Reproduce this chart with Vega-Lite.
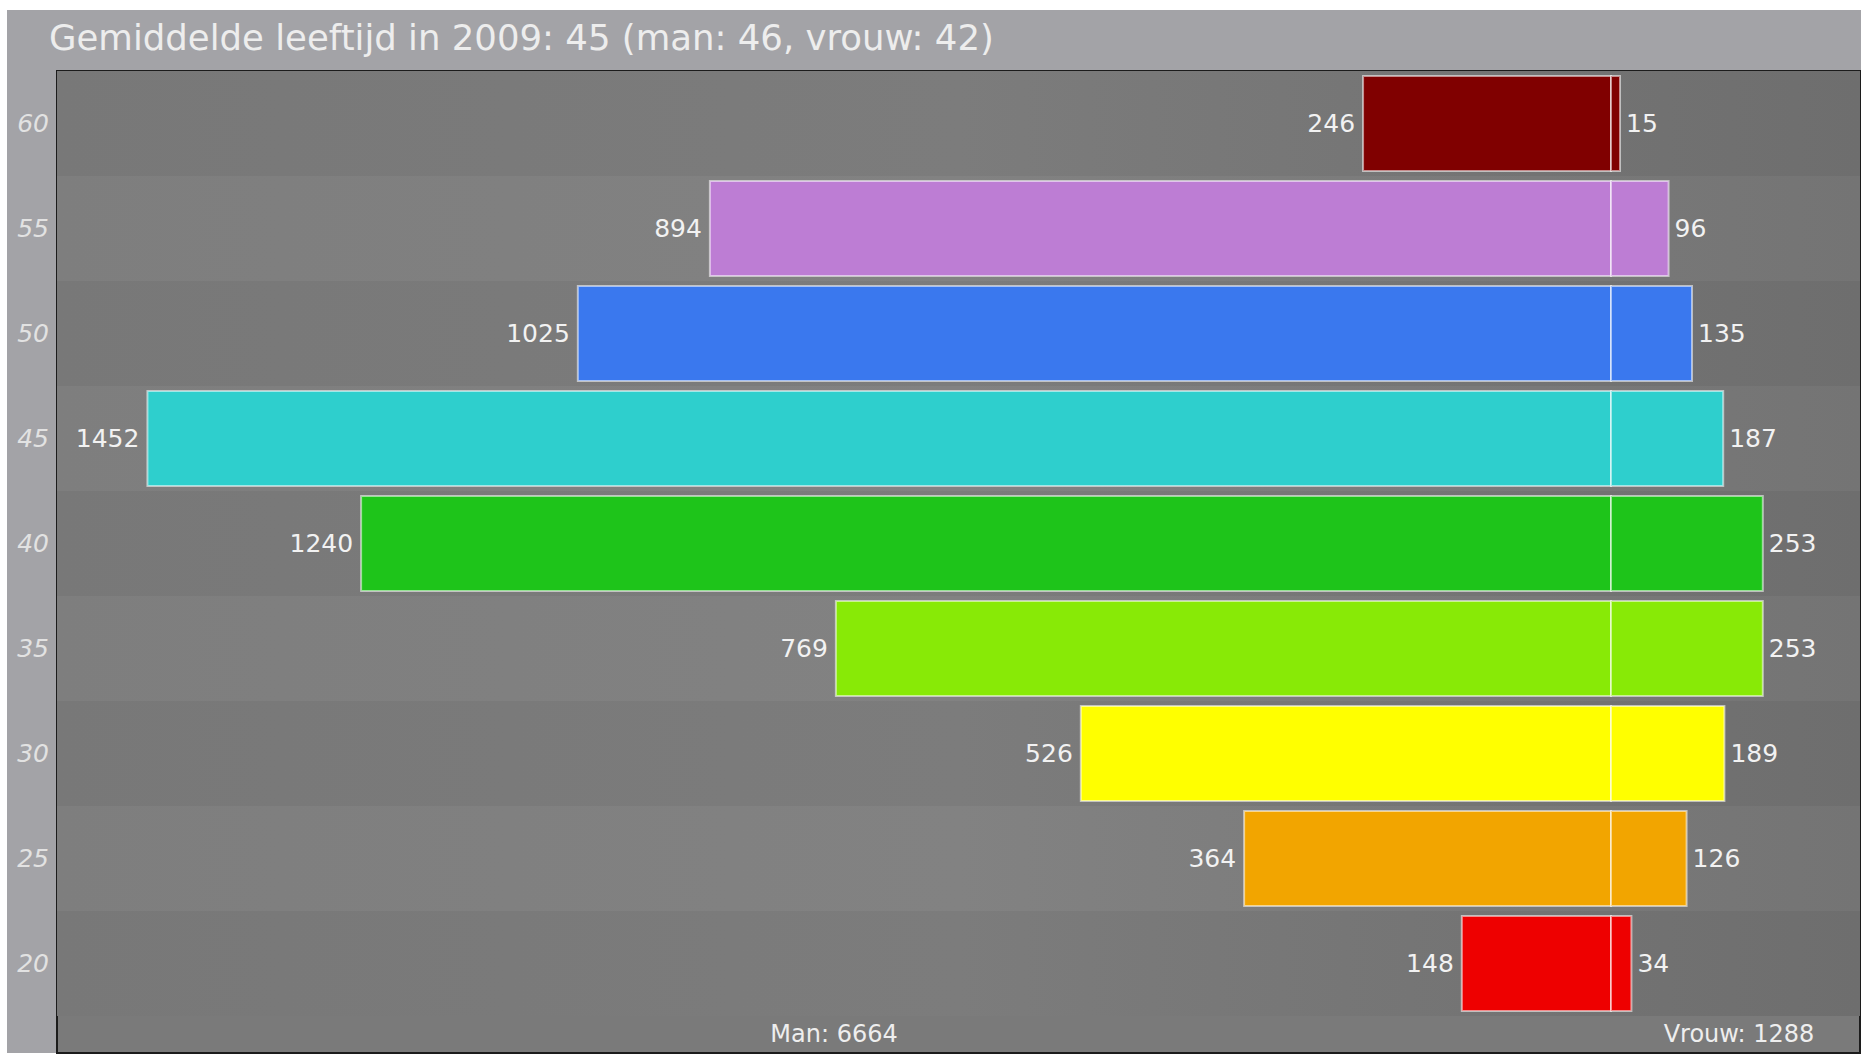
{
  "$schema": "https://vega.github.io/schema/vega-lite/v6.json",
  "background": "white",
  "padding": {"left": 7, "top": 10, "right": 0, "bottom": 0},
  "spacing": 0,
  "bounds": "flush",
  "config": {"font": "DejaVu Sans", "concat": {"spacing": 0}},
  "vconcat": [
    {
      "width": 1854,
      "height": 61,
      "view": {"fill": "#a3a3a7", "stroke": null},
      "data": {"values": [{"t": "Gemiddelde leeftijd in 2009: 45 (man: 46, vrouw: 42)"}]},
      "mark": {"type": "text", "align": "left", "baseline": "alphabetic", "dx": 42, "dy": -21, "fontSize": 35.5, "color": "#ededed"},
      "encoding": {
        "x": {"datum": 0, "type": "quantitative", "axis": null, "scale": {"domain": [0, 1], "nice": false}},
        "y": {"datum": 0, "type": "quantitative", "axis": null, "scale": {"domain": [0, 1], "nice": false}},
        "text": {"field": "t", "type": "nominal"}
      }
    },
    {
      "spacing": 0,
      "bounds": "flush",
      "hconcat": [
        {
          "width": 50,
          "height": 982,
          "view": {"fill": "#a3a3a7", "stroke": null},
          "data": {"values": [
            {"age": "60"}, {"age": "55"}, {"age": "50"}, {"age": "45"}, {"age": "40"},
            {"age": "35"}, {"age": "30"}, {"age": "25"}, {"age": "20"}
          ]},
          "mark": {"type": "text", "align": "right", "baseline": "middle", "dx": -8, "fontSize": 25, "fontStyle": "italic", "color": "#e2e2e2"},
          "encoding": {
            "y": {"field": "age", "type": "nominal", "axis": null, "sort": null,
              "scale": {"domain": ["60","55","50","45","40","35","30","25","20","tot"], "range": [0, 1050], "paddingInner": 0, "paddingOuter": 0}},
            "x": {"datum": 1, "type": "quantitative", "axis": null, "scale": {"domain": [0, 1], "nice": false}},
            "text": {"field": "age", "type": "nominal"}
          }
        },
        {
          "width": 1803,
          "height": 982,
          "view": {"fill": "#7a7a7a", "stroke": "#1c1c1c", "strokeWidth": 2},
          "data": {"values": [
            {"age": "60", "man": 246, "vrouw": 15},
            {"age": "55", "man": 894, "vrouw": 96},
            {"age": "50", "man": 1025, "vrouw": 135},
            {"age": "45", "man": 1452, "vrouw": 187},
            {"age": "40", "man": 1240, "vrouw": 253},
            {"age": "35", "man": 769, "vrouw": 253},
            {"age": "30", "man": 526, "vrouw": 189},
            {"age": "25", "man": 364, "vrouw": 126},
            {"age": "20", "man": 148, "vrouw": 34}
          ]},
          "encoding": {
            "y": {"field": "age", "type": "nominal", "axis": null, "sort": null,
              "scale": {"domain": ["60","55","50","45","40","35","30","25","20","tot"], "range": [0, 1050], "paddingInner": 0, "paddingOuter": 0}}
          },
          "layer": [
            {
              "mark": {"type": "rect", "fill": {"gradient": "linear", "x1": 0, "x2": 1, "y1": 0, "y2": 0,
                "stops": [{"offset": 0, "color": "#7b7b7b"}, {"offset": 0.5, "color": "#7f7f7f"}, {"offset": 1, "color": "#717171"}]}}
            },
            {
              "mark": {"type": "rect", "fillOpacity": 0.022},
              "encoding": {
                "fill": {"field": "age", "type": "nominal", "legend": null,
                  "scale": {"domain": ["60","55","50","45","40","35","30","25","20"],
                    "range": ["#000000","#ffffff","#000000","#ffffff","#000000","#ffffff","#000000","#ffffff","#000000"]}}
              }
            },
            {
              "mark": {"type": "rule", "color": "#111111", "strokeWidth": 2},
              "encoding": {
                "x": {"datum": 0, "type": "quantitative", "axis": null,
                  "scale": {"domain": [-247, 1541.7], "reverse": true, "nice": false}}
              }
            },
            {
              "encoding": {
                "x": {"field": "man", "type": "quantitative", "axis": null,
                  "scale": {"domain": [-247, 1541.7], "reverse": true, "nice": false}}
              },
              "layer": [
                {
                  "mark": {"type": "bar", "height": {"band": 0.905}, "stroke": "white", "strokeOpacity": 0.55, "strokeWidth": 2},
                  "encoding": {
                    "color": {"field": "age", "type": "nominal", "legend": null,
                      "scale": {"domain": ["60","55","50","45","40","35","30","25","20"],
                        "range": ["#800000","#bd7dd4","#3a78ee","#2ecfcd","#1ec41a","#88ea06","#ffff00","#f2a500","#ee0000"]}}
                  }
                },
                {
                  "mark": {"type": "text", "align": "right", "baseline": "middle", "dx": -8, "fontSize": 25, "color": "#f2f2f2"},
                  "encoding": {"text": {"field": "man", "type": "quantitative"}}
                }
              ]
            },
            {
              "encoding": {
                "x": {"field": "vrouw", "type": "quantitative", "axis": null,
                  "scale": {"domain": [-2590, 415], "nice": false}}
              },
              "layer": [
                {
                  "mark": {"type": "bar", "height": {"band": 0.905}, "stroke": "white", "strokeOpacity": 0.55, "strokeWidth": 2},
                  "encoding": {
                    "color": {"field": "age", "type": "nominal", "legend": null,
                      "scale": {"domain": ["60","55","50","45","40","35","30","25","20"],
                        "range": ["#800000","#bd7dd4","#3a78ee","#2ecfcd","#1ec41a","#88ea06","#ffff00","#f2a500","#ee0000"]}}
                  }
                },
                {
                  "mark": {"type": "text", "align": "left", "baseline": "middle", "dx": 6, "fontSize": 25, "color": "#f2f2f2"},
                  "encoding": {"text": {"field": "vrouw", "type": "quantitative"}}
                }
              ]
            },
            {
              "data": {"values": [
                {"age": "tot", "sex": "man", "label": "Man: 6664"},
                {"age": "tot", "sex": "vrouw", "label": "Vrouw: 1288"}
              ]},
              "mark": {"type": "text", "align": "center", "baseline": "middle", "dy": -34, "fontSize": 24, "color": "#eeeeee"},
              "encoding": {
                "x": {"field": "sex", "type": "nominal", "axis": null,
                  "scale": {"type": "point", "domain": ["man", "vrouw"], "range": [777, 1682], "padding": 0}},
                "text": {"field": "label", "type": "nominal"}
              }
            }
          ],
          "resolve": {"scale": {"x": "independent"}}
        }
      ]
    }
  ]
}
